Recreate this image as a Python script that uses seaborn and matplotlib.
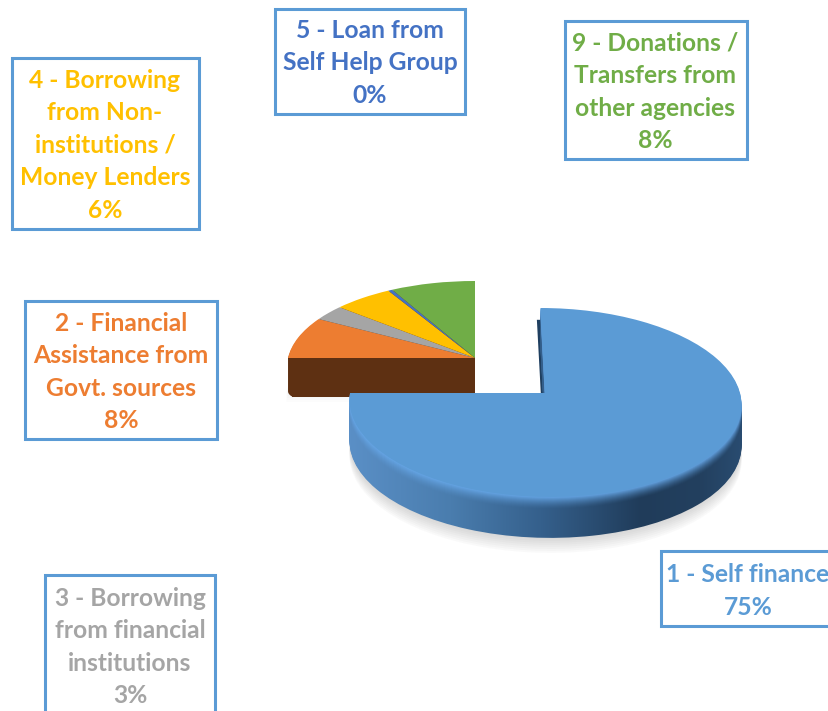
import numpy as np
import seaborn as sns
import matplotlib.pyplot as plt
from matplotlib.colors import to_rgb
from matplotlib.patches import Rectangle
from matplotlib.transforms import Transform

# chart data
categories = ["1 - Self finance", "2 - Financial Assistance", "3 - Borrowing", "4 - Borrowing", "5 - Loan", "9 - Donations"]
values = [75, 8, 3, 5.6, 0.4, 8]
label_lines = [
    "1 - Self finance\n75%",
    "2 - Financial\nAssistance from\nGovt. sources\n8%",
    "3 - Borrowing\nfrom financial\ninstitutions\n3%",
    "4 - Borrowing\nfrom Non-\ninstitutions /\nMoney Lenders\n6%",
    "5 - Loan from\nSelf Help Group\n0%",
    "9 - Donations /\nTransfers from\nother agencies\n8%",
]
slice_colors = ["#5b9bd5", "#ed7d31", "#a5a5a5", "#ffc000", "#4472c4", "#70ad47"]
label_colors = slice_colors

# left, top, right, bottom of each label box in pixels
boxes = [
    (661, 551, 840, 626),
    (25, 301, 217, 439),
    (45, 575, 215, 716),
    (12, 58, 199, 229),
    (275, 9, 465, 114),
    (565, 21, 747, 159),
]

sns.set_theme(style="white")
plt.rcParams["font.family"] = ["Lato", "DejaVu Sans"]
palette = sns.color_palette(slice_colors)


class Tilt(Transform):
    # lays the flat pie down with a bit of perspective, result is in pixels
    input_dims = 2
    output_dims = 2

    def __init__(self, cx, cy, rx, ry, k, shear=0.0):
        super().__init__()
        self.cx, self.cy, self.rx, self.ry, self.k, self.shear = cx, cy, rx, ry, k, shear

    def transform_non_affine(self, values):
        x, y = np.asarray(values).T
        w = 1 + self.k * y
        return np.column_stack((self.cx + (self.rx * x + self.shear * y) / w, self.cy - self.ry * y / w))


fig = plt.figure(figsize=(8.29, 7.11), dpi=100)
ax = fig.add_axes([0, 0, 1, 1])


def draw_layer(keep, colors, geom, z, dx=0, dy=0, radius=1.0, alpha=None):
    cx, cy, rx, ry, k, shear = geom
    wedges, _ = ax.pie(values, colors=colors, startangle=90, counterclock=False, radius=radius,
                       wedgeprops=dict(linewidth=0, alpha=alpha))
    tilt = Tilt(cx + dx, cy + dy, rx, ry, k, shear) + ax.transData
    for i, w in enumerate(wedges):
        w.set_transform(tilt)
        w.set_zorder(z)
        w.set_visible(i in keep)
    return wedges


small_geom = (475, 358, 187, 84.7, 0.1, 0)
big_geom = (545, 393, 195, 93.5, 0.1, -5)
small_keep = [1, 2, 3, 4, 5]
big_keep = [0]

# small group: shadow, brown wall, top
for d in range(50, 38, -2):
    draw_layer(small_keep, ["#808080"] * 6, small_geom, 1, dx=-2, dy=d - 6, alpha=0.02)
for d in range(39, 0, -1):
    r = 1 - 0.02 * (max(0, d - 34) / 5) ** 2
    draw_layer(small_keep, ["#5e3012"] * 6, small_geom, 2, dy=d, radius=r)
draw_layer(small_keep, palette, small_geom, 3)

# big slice: soft shadow
for d in range(56, 40, -2):
    draw_layer(big_keep, ["#707070"] * 6, big_geom, 4, dy=d, alpha=0.035)

# narrow dark cut face at the 12 o'clock edge, rest of it stays behind the wall
draw_layer(big_keep, ["#1f3f60"] * 6, big_geom, 4.5, dx=-4, dy=4, radius=0.9)

# big slice: wall, image gradient clipped by the wedge, one pixel at a time
xs = np.arange(340, 760)
stop_x = [350, 450, 540, 640, 700, 745]
stop_c = np.array([to_rgb(c) for c in ["#5a8fc6", "#4a7dae", "#35608c", "#203c5a", "#23405f", "#2a4d72"]])
grad = np.column_stack([np.interp(xs, stop_x, stop_c[:, i]) for i in range(3)])
light = np.array(to_rgb("#66a6e6"))
depth = 41
for d in range(depth, 0, -1):
    w = draw_layer(big_keep, ["#35608c"] * 6, big_geom, 5, dy=d)[0]
    w.set_visible(False)
    t = max(0.0, 1 - d / 13) ** 1.5
    row = grad * (1 - t) + light * t
    im = ax.imshow(row[np.newaxis, :, :], extent=(340, 760, 560, 290), aspect="auto", zorder=5,
                   interpolation="nearest")
    im.set_clip_path(w)

# top of the big slice
draw_layer(big_keep, palette, big_geom, 7)

# label boxes
for (l, t, r, b) in boxes:
    ax.add_patch(Rectangle((l, t), r - l, b - t, facecolor="white", edgecolor="#5b9bd5", linewidth=2.2, zorder=8))

text_x = [748, 121, 130, 105, 370, 655]
text_y = [591, 372, 647, 145, 63, 92]
for x, y, text, col in zip(text_x, text_y, label_lines, label_colors):
    ax.text(x, y, text, color=col, fontsize=17.7, fontweight="bold", ha="center", va="center",
            linespacing=1.5, zorder=9)

ax.set_aspect("auto")
ax.set_xlim(0, 829)
ax.set_ylim(711, 0)
ax.axis("off")
fig.savefig("out.png", dpi=100, facecolor="white")
